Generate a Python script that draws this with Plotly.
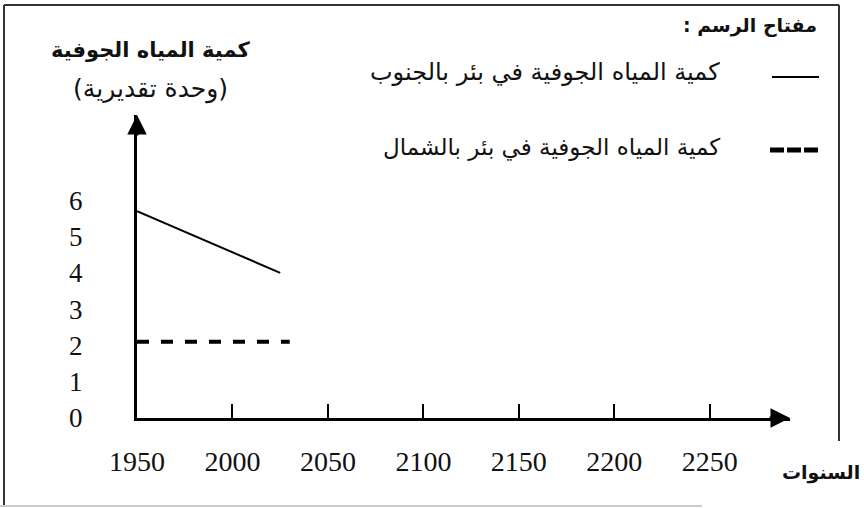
import plotly.graph_objects as go

# ---- data ----
years_ticks = [1950, 2000, 2050, 2100, 2150, 2200, 2250]
y_ticks = [0, 1, 2, 3, 4, 5, 6]
south_years = [1950, 2025]
south_values = [5.7, 4.0]
north_years = [1950, 2030]
north_values = [2.1, 2.1]

RLM = "\u200f"
y_title = "كمية المياه الجوفية"
y_unit = "(وحدة تقديرية)"
x_title = "السنوات"
legend_title = "مفتاح الرسم :"
south_name = "كمية المياه الجوفية في بئر بالجنوب"
north_name = "كمية المياه الجوفية في بئر بالشمال"

W, H = 864, 508
AR = "DejaVu Sans"
SERIF = "Liberation Serif"

def px(x):
    return x / W

def py(y):
    return (H - y) / H

x_max = 2292
y_max = 8.35

fig = go.Figure()
fig.add_trace(go.Scatter(x=south_years, y=south_values, mode="lines",
                         line=dict(color="black", width=2), name=south_name,
                         showlegend=False, hoverinfo="skip"))
fig.add_trace(go.Scatter(x=north_years, y=north_values, mode="lines",
                         line=dict(color="black", width=4, dash="12px,12px"),
                         name=north_name, showlegend=False, hoverinfo="skip"))

fig.update_layout(
    width=W, height=H,
    margin=dict(l=0, r=0, t=0, b=0, autoexpand=False),
    paper_bgcolor="white", plot_bgcolor="white",
    xaxis=dict(domain=[px(137), px(790)], range=[1950, x_max], automargin=False,
               tickvals=years_ticks, ticktext=[str(v) for v in years_ticks],
               ticks="inside", ticklen=14, tickwidth=2, tickcolor="black",
               showline=True, linewidth=3, linecolor="black",
               showgrid=False, zeroline=False,
               tickfont=dict(family=SERIF, size=28, color="#111"),
               ticklabelstandoff=16),
    yaxis=dict(domain=[py(418), py(115)], range=[0, y_max], automargin=False,
               tickvals=y_ticks, ticktext=[str(v) for v in y_ticks],
               ticks="", showline=True, linewidth=3, linecolor="black",
               showgrid=False, zeroline=False,
               tickfont=dict(family=SERIF, size=27, color="#111"),
               ticklabelstandoff=46),
)

annotations = [
    # axis arrows
    dict(x=x_max, y=0, xref="x", yref="y", ax=-22, ay=0,
         showarrow=True, arrowhead=2, arrowsize=1.3, arrowwidth=3, arrowcolor="black", text=""),
    dict(x=1950, y=y_max, xref="x", yref="y", ax=0, ay=22,
         showarrow=True, arrowhead=2, arrowsize=1.3, arrowwidth=3, arrowcolor="black", text=""),
    # titles
    dict(x=px(150), y=py(50), xref="paper", yref="paper", text="<b>" + y_title + "</b>",
         showarrow=False, xanchor="center", yanchor="middle",
         font=dict(family=AR, size=21, color="#111")),
    dict(x=px(150), y=py(89), xref="paper", yref="paper", text=y_unit,
         showarrow=False, xanchor="center", yanchor="middle",
         font=dict(family=AR, size=25, color="#111")),
    dict(x=px(862), y=py(472), xref="paper", yref="paper", text="<b>" + x_title + "</b>",
         showarrow=False, xanchor="right", yanchor="middle",
         font=dict(family=AR, size=19, color="#111")),
    # legend
    dict(x=px(819), y=py(25), xref="paper", yref="paper", text="<b>" + legend_title + RLM + "</b>",
         showarrow=False, xanchor="right", yanchor="middle",
         font=dict(family=AR, size=19, color="#111")),
    dict(x=px(722), y=py(72), xref="paper", yref="paper", text=south_name,
         showarrow=False, xanchor="right", yanchor="middle",
         font=dict(family=AR, size=24, color="#111")),
    dict(x=px(722), y=py(147), xref="paper", yref="paper", text=north_name,
         showarrow=False, xanchor="right", yanchor="middle",
         font=dict(family=AR, size=23, color="#111")),
]
fig.update_layout(annotations=annotations)

frame = dict(color="#333", width=2)
shapes = [
    dict(type="line", xref="paper", yref="paper", x0=px(4), y0=py(5), x1=px(839), y1=py(5), line=frame),
    dict(type="line", xref="paper", yref="paper", x0=px(4), y0=py(5), x1=px(4), y1=py(505), line=frame),
    dict(type="line", xref="paper", yref="paper", x0=px(839), y0=py(5), x1=px(839), y1=py(441), line=frame),
    dict(type="line", xref="paper", yref="paper", x0=px(0), y0=py(506), x1=px(702), y1=py(506),
         line=dict(color="#ccc", width=2)),
    # legend symbols
    dict(type="line", xref="paper", yref="paper", x0=px(772), y0=py(77), x1=px(819), y1=py(77),
         line=dict(color="black", width=2)),
    dict(type="line", xref="paper", yref="paper", x0=px(770), y0=py(150), x1=px(819), y1=py(150),
         line=dict(color="black", width=5, dash="14px,3px")),
]
fig.update_layout(shapes=shapes)

fig.write_html("out.html", config={"displayModeBar": False},
               post_script="document.body.style.margin='0px';document.body.style.overflow='hidden';")
